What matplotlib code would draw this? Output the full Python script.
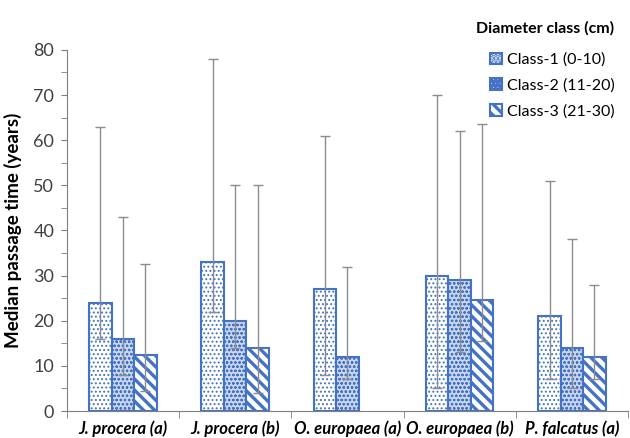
import matplotlib
matplotlib.use("Agg")
import matplotlib.pyplot as plt
import numpy as np

categories = ["J. procera (a)", "J. procera (b)", "O. europaea (a)", "O. europaea (b)", "P. falcatus (a)"]
series_names = ["Class-1 (0-10)", "Class-2 (11-20)", "Class-3 (21-30)"]
# median values (nan = missing)
class1 = [24, 33, 27, 30, 21]
class2 = [16, 20, 12, 29, 14]
class3 = [12.5, 14, np.nan, 24.5, 12]
# lower / upper bounds of the error bars
class1_low = [16, 22, 8, 5, 7]
class1_high = [63, 78, 61, 70, 51]
class2_low = [8, 14, 7, 13, 5]
class2_high = [43, 50, 32, 62, 38]
class3_low = [4.5, 4, np.nan, 15.5, 7]
class3_high = [32.5, 50, np.nan, 63.5, 28]

plt.rcParams['font.family'] = ['Lato', 'DejaVu Sans']

fig = plt.figure(figsize=(6.3, 4.38), dpi=100)
ax = fig.add_axes([0.106, 0.0616, 0.891, 0.8245])

blue = '#4472C4'
x = np.arange(len(categories))
w = 0.2
styles = [
    dict(facecolor='white', hatch='....', lw_h=0.9),
    dict(facecolor='#c9d6f0', hatch='oooo', lw_h=0.6),
    dict(facecolor='white', hatch='\\\\\\', lw_h=2.4),
]
vals = [class1, class2, class3]
lows = [class1_low, class2_low, class3_low]
highs = [class1_high, class2_high, class3_high]
handles = []
for i in range(3):
    v = np.array(vals[i], dtype=float)
    lo = np.array(lows[i], dtype=float)
    hi = np.array(highs[i], dtype=float)
    pos = x + (i - 1) * w
    plt.rcParams['hatch.linewidth'] = styles[i]['lw_h']
    mask = ~np.isnan(v)
    bars = ax.bar(pos[mask], v[mask], width=w, facecolor=styles[i]['facecolor'],
                  edgecolor=blue, hatch=styles[i]['hatch'], linewidth=1.5,
                  label=series_names[i], zorder=2)
    handles.append(bars)
    yerr = np.vstack([v[mask] - lo[mask], hi[mask] - v[mask]])
    ax.errorbar(pos[mask], v[mask], yerr=yerr, fmt='none', ecolor='#8c8c8c',
                elinewidth=1.0, capsize=3.5, capthick=1.0, zorder=3)

ax.set_xlim(-0.5, 4.5)
ax.set_ylim(0, 80)
ax.set_yticks(np.arange(0, 81, 10))
ax.set_yticks(np.arange(0, 81, 5), minor=True)
ax.set_xticks(x)
ax.set_xticklabels(categories, fontsize=12, fontweight='bold', fontstyle='italic')
ax.set_xticks(np.arange(-0.5, 4.6, 1), minor=True)
ax.tick_params(axis='x', which='major', length=0, pad=7)
ax.tick_params(axis='x', which='minor', length=5, color='#7f7f7f', direction='out')
ax.tick_params(axis='y', which='both', length=4, color='#7f7f7f', direction='out',
               labelsize=13, labelcolor='#404040', pad=5)
ax.set_ylabel("Median passage time (years)", fontsize=13.5, fontweight='bold', labelpad=8)
for s in ['top', 'right']:
    ax.spines[s].set_visible(False)
for s in ['left', 'bottom']:
    ax.spines[s].set_color('#7f7f7f')

leg = ax.legend(handles=handles, loc='upper right', bbox_to_anchor=(0.998, 0.984),
                bbox_transform=fig.transFigure, frameon=False, fontsize=11.5,
                title="Diameter class (cm)", title_fontproperties={'weight': 'bold', 'size': 11.5},
                handlelength=0.75, handleheight=0.75, handletextpad=0.3,
                labelspacing=0.72, alignment='right')
leg._legend_box.sep = 12

fig.savefig("out.png", dpi=100)
